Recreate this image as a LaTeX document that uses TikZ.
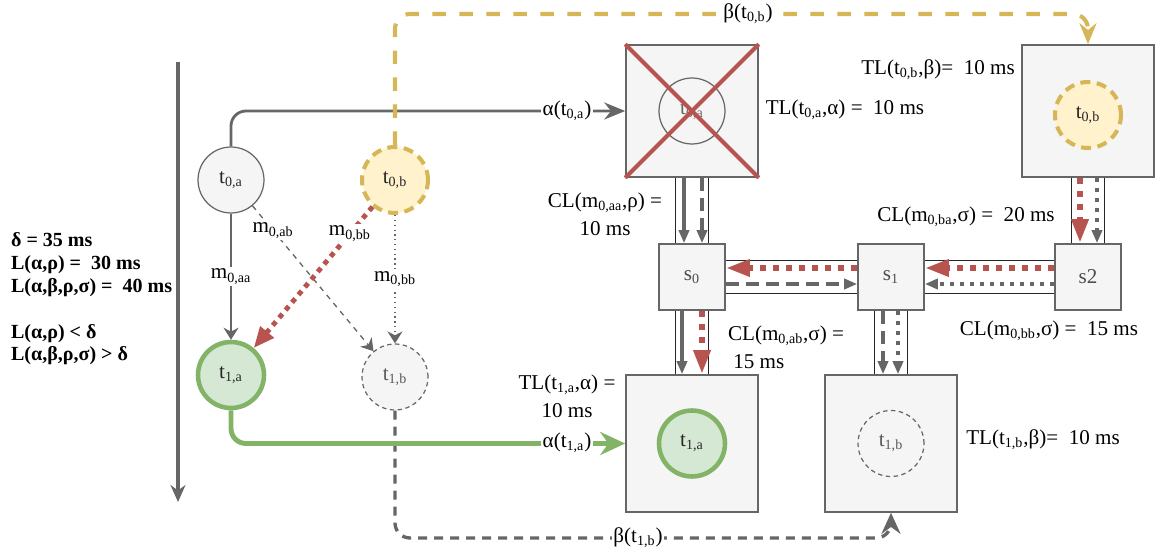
\documentclass[tikz,border=0pt]{standalone}
\usepackage{fontspec}
\setmainfont{Liberation Serif}
\usepackage{xcolor}
\usepackage{tikz}
\usetikzlibrary{arrows.meta,calc,positioning}
\definecolor{dgray}{HTML}{666666}
\definecolor{dfill}{HTML}{F5F5F5}
\definecolor{dyel}{HTML}{D6B656}
\definecolor{dyelfill}{HTML}{FFF2CC}
\definecolor{dgreen}{HTML}{82B366}
\definecolor{dgreenfill}{HTML}{D5E8D4}
\definecolor{dred}{HTML}{B85450}
\newcommand{\sbs}[1]{\textsubscript{#1}}
\tikzset{
  >={Stealth[length=2.4mm,width=3mm]},
  dtask/.style={circle, draw=dgray, fill=dfill, line width=0.7pt,
                minimum size=1.32cm, inner sep=0pt, text=black!85},
  dtaskok/.style={dtask, draw=dgreen, fill=dgreenfill, line width=2.6pt},
  dtaskyl/.style={dtask, draw=dyel, fill=dyelfill, line width=2.3pt,
                  dash pattern=on 0.2cm off 0.13cm},
  dtaskoff/.style={dtask, text=black!65, dash pattern=on 2.5pt off 2pt},
  decu/.style={rectangle, draw=dgray, fill=dfill, line width=0.9pt,
               minimum width=2.64cm, minimum height=2.64cm, inner sep=0pt},
  dswitch/.style={rectangle, draw=dgray, fill=dfill, line width=0.9pt,
                  minimum size=1.32cm, inner sep=0pt, text=black!70},
  dwire/.style={black!85, line width=0.8pt},
  dedge/.style={->, dgray, line width=0.75pt},
  dredge/.style={-{Triangle[length=0.42cm,width=0.34cm]}, dred, line width=2.8pt,
                 dash pattern=on 0.1cm off 0.1cm},
  dlbl/.style={fill=white, inner sep=1pt, text=black},
  dtxt/.style={align=center, inner sep=1pt, font=\fontsize{12}{16}\selectfont},
  dnote/.style={align=left, inner sep=1pt, font=\fontsize{11.4}{13}\selectfont\bfseries},
  dgmsg/.style={-{Triangle[length=0.26cm,width=0.2cm]}, dgray, line width=2.2pt},
  drmsg/.style={-{Triangle[length=0.48cm,width=0.32cm]}, dred, line width=3.6pt,
                dash pattern=on 0.13cm off 0.13cm},
  dgdash/.style={dash pattern=on 0.26cm off 0.14cm},
  dgdot/.style={dash pattern=on 0.08cm off 0.12cm},
  dflow/.style={-{Stealth[length=0.42cm,width=0.34cm]}, dgray, line width=1.6pt,
                rounded corners=0.3cm},
  dflowyl/.style={dflow, dyel, line width=2.3pt, dash pattern=on 0.27cm off 0.27cm},
  dflowok/.style={dflow, -{Stealth[length=0.5cm,width=0.46cm]}, dgreen, line width=2.8pt},
  dflowgr/.style={dflow, -{Stealth[length=0.42cm,width=0.38cm]}, line width=1.9pt,
                  dash pattern=on 0.18cm off 0.14cm},
  daxis/.style={-{Stealth[length=0.34cm,width=0.3cm]}, dgray, line width=1.8pt},
  dcross/.style={dred, line width=2.3pt},
}
\begin{document}
\begin{tikzpicture}[x=0.02cm, y=-0.02cm, font=\fontsize{12}{15}\selectfont]
  \useasboundingbox (0,0) rectangle (1160,557);

  % eixo do tempo
  \coordinate (ttop) at (178,62);
  \coordinate (tbot) at (178,502);
  \draw[daxis] (ttop) -- (tbot);

  % notas
  \node[dnote, anchor=west] (note) at (9,299)
    {δ = 35 ms\\ L(α,ρ) = \ 30 ms\\ L(α,β,ρ,σ) = \ 40 ms\\[13pt]
     L(α,ρ) < δ\\ L(α,β,ρ,σ) > δ};

  % tarefas
  \node[dtask]    (t0a) at (231,180) {t\sbs{0,a}};
  \node[dtaskyl]  (t0b) at (395,180) {t\sbs{0,b}};
  \node[dtaskok]  (t1a) at (231,375) {t\sbs{1,a}};
  \node[dtaskoff] (t1b) at (395,377) {t\sbs{1,b}};

  % mensagens entre tarefas
  \draw[dedge] (t0a) -- node[dlbl] {m\sbs{0,aa}} (t1a);
  \draw[dedge, dash pattern=on 3pt off 3pt] (t0a) -- node[dlbl, pos=0.17] {m\sbs{0,ab}} (t1b);
  \draw[dedge, dotted] (t0b) -- node[dlbl] {m\sbs{0,bb}} (t1b);
  \draw[dredge] (t0b) -- node[dlbl, pos=0.19] {m\sbs{0,bb}} (t1a);

  % ecus
  \node[decu] (e0a) at (692,111) {};
  \node[decu] (e0b) at (1088,111) {};
  \node[decu, minimum height=2.74cm] (e1a) at (692,443.5) {};
  \node[decu, minimum height=2.74cm] (e1b) at (891,443.5) {};

  \node[dtask, fill=none, text=black!60] (c0a) at (e0a) {t\sbs{0,a}};
  \node[dtaskyl]  (c0b) at ($(e0b)+(0,4)$) {t\sbs{0,b}};
  \node[dtaskok]  (c1a) at (e1a) {t\sbs{1,a}};
  \node[dtaskoff] (c1b) at (e1b) {t\sbs{1,b}};
  \draw[dcross] (e0a.north west) -- (e0a.south east) (e0a.north east) -- (e0a.south west);

  % switches
  \node[dswitch] (s0) at (692,277) {s\sbs{0}};
  \node[dswitch] (s1) at (891,277) {s\sbs{1}};
  \node[dswitch] (s2) at (1088,277) {s2};

  % canais
  \foreach \a/\b in {e0a/s0, s0/e1a, s1/e1b, e0b/s2}
    \foreach \dx in {-16.5,16.5}
      \draw[dwire] ($(\a.south)+(\dx,0)$) -- ($(\b.north)+(\dx,0)$);
  \foreach \a/\b in {s0/s1, s1/s2}
    \foreach \dy in {-16.5,16.5}
      \draw[dwire] ($(\a.east)+(0,\dy)$) -- ($(\b.west)+(0,\dy)$);

  % mensagens nos canais
  \draw[dgmsg] ($(e0a.south)+(-8,0)$) -- ($(s0.north)+(-8,0)$);
  \draw[dgmsg, dgdash] ($(e0a.south)+(10,0)$) -- ($(s0.north)+(10,0)$);
  \draw[drmsg] ($(s1.west)+(0,-9)$) -- ($(s0.east)+(0,-9)$);
  \draw[dgmsg, dgdash] ($(s0.east)+(0,7)$) -- ($(s1.west)+(0,7)$);
  \draw[drmsg] ($(s2.west)+(0,-9)$) -- ($(s1.east)+(0,-9)$);
  \draw[dgmsg, dgdot] ($(s2.west)+(0,7)$) -- ($(s1.east)+(0,7)$);
  \draw[drmsg] ($(e0b.south)+(-8,0)$) -- ($(s2.north)+(-8,0)$);
  \draw[dgmsg, dgdot] ($(e0b.south)+(9,0)$) -- ($(s2.north)+(9,0)$);
  \draw[dgmsg] ($(s0.south)+(-10,0)$) -- ($(e1a.north)+(-10,0)$);
  \draw[drmsg] ($(s0.south)+(10,0)$) -- ($(e1a.north)+(10,0)$);
  \draw[dgmsg, dgdash] ($(s1.south)+(-8,0)$) -- ($(e1b.north)+(-8,0)$);
  \draw[dgmsg, dgdot] ($(s1.south)+(7,0)$) -- ($(e1b.north)+(7,0)$);

  % ativacoes
  \coordinate (b0) at (1088,14);
  \coordinate (b1) at (891,538);
  \draw[dflow] (t0a.north) |- (e0a.west);
  \draw[dflowyl] (t0b.north) |- (b0) -- (e0b.north);
  \draw[dflowgr] (t1b.south) |- (b1) -- (e1b.south);
  \draw[dflowok] (t1a.south) |- (e1a.west);
  \node[dlbl] (la0) at (567,111) {α(t\sbs{0,a})};
  \node[dlbl] (lb0) at (748,14) {β(t\sbs{0,b})};
  \node[dlbl] (la1) at (567,443) {α(t\sbs{1,a})};
  \node[dlbl] (lb1) at (638,538) {β(t\sbs{1,b})};

  % latencias
  \node[dtxt] (tl0a) at (845,110) {TL(t\sbs{0,a},α) = \ 10 ms};
  \node[dtxt] (tl0b) at (938,70) {TL(t\sbs{0,b},β)= \ 10 ms};
  \node[dtxt] (cl0aa) at (605,214) {CL(m\sbs{0,aa},ρ) =\\10 ms};
  \node[dtxt] (cl0ba) at (966,217) {CL(m\sbs{0,ba},σ) = \ 20 ms};
  \node[dtxt, align=left, anchor=west] (cl0ab) at (726,347) {CL(m\sbs{0,ab},σ) =\\\ 15 ms};
  \node[dtxt] (cl0bb) at (1049,331) {CL(m\sbs{0,bb},σ) = \ 15 ms};
  \node[dtxt] (tl1a) at (567,396) {TL(t\sbs{1,a},α) =\\10 ms};
  \node[dtxt] (tl1b) at (1043,440) {TL(t\sbs{1,b},β)= \ 10 ms};

\end{tikzpicture}
\end{document}
